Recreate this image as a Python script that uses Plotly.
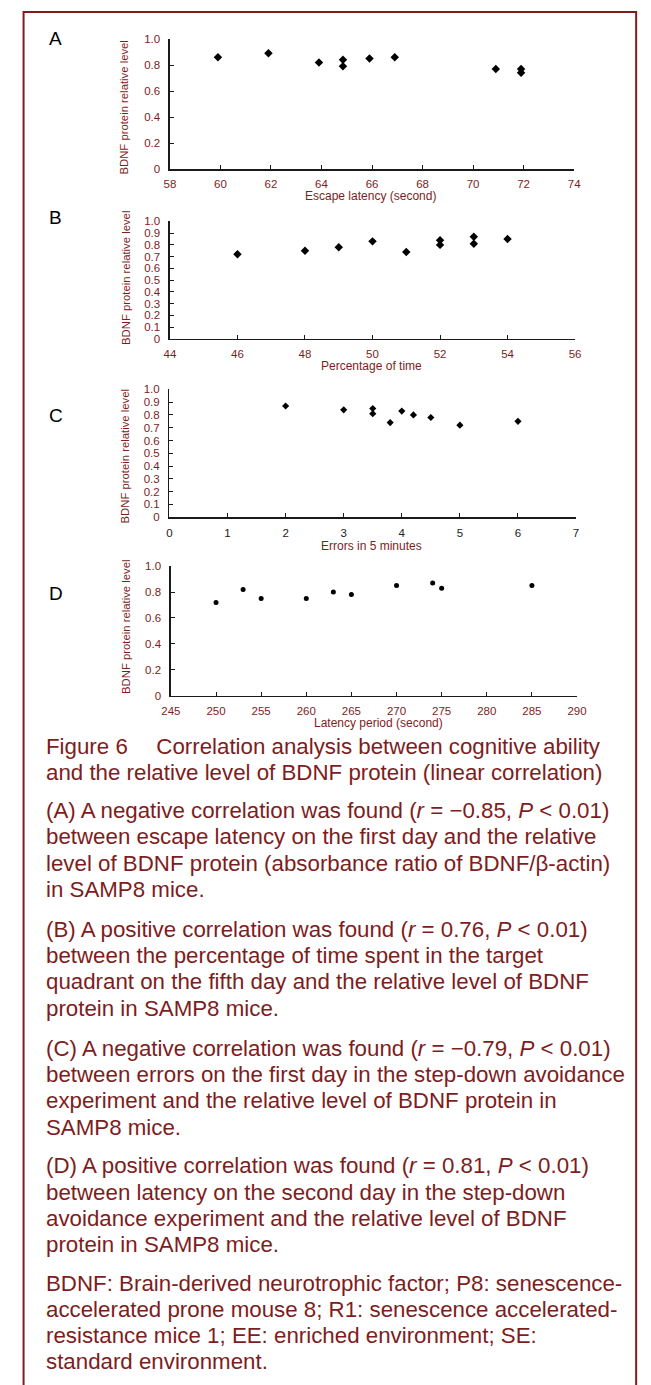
import plotly.graph_objects as go

# ---------------- data ----------------
a_x = [59.9, 61.9, 63.9, 64.85, 64.85, 65.9, 66.9, 70.9, 71.9, 71.9]
a_y = [0.86, 0.89, 0.82, 0.84, 0.79, 0.85, 0.86, 0.77, 0.77, 0.74]

b_x = [46, 48, 49, 50, 51, 52, 52, 53, 53, 54]
b_y = [0.72, 0.75, 0.78, 0.83, 0.74, 0.84, 0.80, 0.87, 0.81, 0.85]

c_x = [2, 3, 3.5, 3.5, 3.8, 4, 4.2, 4.5, 5, 6]
c_y = [0.87, 0.84, 0.85, 0.81, 0.74, 0.83, 0.80, 0.78, 0.72, 0.75]

d_x = [250, 253, 255, 260, 263, 265, 270, 274, 275, 285]
d_y = [0.72, 0.82, 0.75, 0.75, 0.80, 0.78, 0.85, 0.87, 0.83, 0.85]

a_xticks = [58, 60, 62, 64, 66, 68, 70, 72, 74]
b_xticks = [44, 46, 48, 50, 52, 54, 56]
c_xticks = [0, 1, 2, 3, 4, 5, 6, 7]
d_xticks = [245, 250, 255, 260, 265, 270, 275, 280, 285, 290]
y_ticks_02 = [0, 0.2, 0.4, 0.6, 0.8, 1.0]
y_ticks_01 = [0, 0.1, 0.2, 0.3, 0.4, 0.5, 0.6, 0.7, 0.8, 0.9, 1.0]

panel_letters = ["A", "B", "C", "D"]
x_titles = ["Escape latency (second)", "Percentage of time",
            "Errors in 5 minutes", "Latency period (second)"]
y_title = "BDNF protein relative level"

caption = [
    ["Figure 6\u2003 Correlation analysis between cognitive ability",
     "and the relative level of BDNF protein (linear correlation)"],
    ["(A) A negative correlation was found (<i>r</i> = \u22120.85, <i>P</i> &lt; 0.01)",
     "between escape latency on the first day and the relative",
     "level of BDNF protein (absorbance ratio of BDNF/\u03b2-actin)",
     "in SAMP8 mice."],
    ["(B) A positive correlation was found (<i>r</i> = 0.76, <i>P</i> &lt; 0.01)",
     "between the percentage of time spent in the target",
     "quadrant on the fifth day and the relative level of BDNF",
     "protein in SAMP8 mice."],
    ["(C) A negative correlation was found (<i>r</i> = \u22120.79, <i>P</i> &lt; 0.01)",
     "between errors on the first day in the step-down avoidance",
     "experiment and the relative level of BDNF protein in",
     "SAMP8 mice."],
    ["(D) A positive correlation was found (<i>r</i> = 0.81, <i>P</i> &lt; 0.01)",
     "between latency on the second day in the step-down",
     "avoidance experiment and the relative level of BDNF",
     "protein in SAMP8 mice."],
    ["BDNF: Brain-derived neurotrophic factor; P8: senescence-",
     "accelerated prone mouse 8; R1: senescence accelerated-",
     "resistance mice 1; EE: enriched environment; SE:",
     "standard environment."],
]

# ---------------- layout helpers ----------------
W, H = 651, 1385
RED = "#7d1d1d"
FONT = "Liberation Sans, Arial, sans-serif"


def fx(px):
    return px / W


def fy(py):
    return 1 - py / H


# panel geometry in pixels: (x_left, x_right, y_top, y_bottom)
panels = [
    (165, 582, 33.3, 164.5),
    (165, 583, 217.3, 335.7),
    (164.5, 584, 386.7, 515.7),
    (166, 585, 565, 695.7),
]
xranges = [[58, 74], [44, 56], [0, 7], [245, 290]]
xticks = [a_xticks, b_xticks, c_xticks, d_xticks]
yticks = [y_ticks_02, y_ticks_01, y_ticks_01, y_ticks_02]
series = [(a_x, a_y), (b_x, b_y), (c_x, c_y), (d_x, d_y)]
markers = [dict(symbol="diamond", size=6.5), dict(symbol="diamond", size=6.5),
           dict(symbol="diamond", size=5.5), dict(symbol="circle", size=5)]
xtick_colors = [RED, RED, "#222222", RED]
letter_y = [33, 213, 413, 593]
xtitle_pos = [(372, 192), (373, 363), (372.5, 545), (380.5, 723)]
ytitle_pos = [(118, 102), (119, 274), (119, 454), (119, 626)]

fig = go.Figure()
layout = dict(
    width=W, height=H,
    margin=dict(l=0, r=0, t=0, b=0),
    paper_bgcolor="white", plot_bgcolor="white",
    showlegend=False,
    font=dict(family=FONT, color=RED),
)
annotations = []

for i in range(4):
    k = "" if i == 0 else str(i + 1)
    x0, x1, yt, yb = panels[i]
    sx, sy = series[i]
    fig.add_trace(go.Scatter(
        x=sx, y=sy, mode="markers",
        marker=dict(color="black", line=dict(width=0), **markers[i]),
        xaxis="x" + k, yaxis="y" + k, cliponaxis=False,
    ))
    ytv = yticks[i]
    ytt = ["0" if v == 0 else f"{v:.1f}" for v in ytv]
    layout["xaxis" + k] = dict(
        domain=[fx(x0), fx(x1)], anchor="y" + k, range=xranges[i],
        tickvals=xticks[i], ticktext=[str(v) for v in xticks[i]],
        showline=True, linecolor="#1a1a1a", linewidth=1.5,
        ticks="inside", ticklen=4, tickwidth=1, tickcolor="#1a1a1a",
        showgrid=False, zeroline=False, fixedrange=True,
        tickfont=dict(family=FONT, size=11.5, color=xtick_colors[i]),
        ticklabelstandoff=4,
    )
    layout["yaxis" + k] = dict(
        domain=[fy(yb), fy(yt)], anchor="x" + k, range=[0, 1.0],
        tickvals=ytv, ticktext=ytt,
        showline=True, linecolor="#1a1a1a", linewidth=1.5,
        ticks="inside", ticklen=4, tickwidth=1, tickcolor="#1a1a1a",
        showgrid=False, zeroline=False, fixedrange=True,
        tickfont=dict(family=FONT, size=11.5, color=RED),
        ticklabelstandoff=6,
    )
    annotations.append(dict(
        text=panel_letters[i], x=fx(47), y=fy(letter_y[i]),
        xref="paper", yref="paper", xanchor="center", yanchor="middle",
        showarrow=False, font=dict(family=FONT, size=19, color="black"),
    ))
    tx, ty = xtitle_pos[i]
    annotations.append(dict(
        text=x_titles[i], x=fx(tx), y=fy(ty),
        xref="paper", yref="paper", xanchor="center", yanchor="middle",
        showarrow=False, font=dict(family=FONT, size=12, color=RED),
    ))
    ux, uy = ytitle_pos[i]
    annotations.append(dict(
        text=y_title, x=fx(ux), y=fy(uy), textangle=-90,
        xref="paper", yref="paper", xanchor="center", yanchor="middle",
        showarrow=False, font=dict(family=FONT, size=11.3, color=RED),
    ))

# caption lines
para_start = [747, 811.7, 931.7, 1051.7, 1170, 1288.3]
line_step = 26.4
for p, lines in enumerate(caption):
    for j, line in enumerate(lines):
        annotations.append(dict(
            text=line, x=fx(35), y=fy(para_start[p] + j * line_step),
            xref="paper", yref="paper", xanchor="left", yanchor="middle",
            showarrow=False, font=dict(family=FONT, size=22.3, color=RED),
        ))

layout["annotations"] = annotations
layout["shapes"] = [dict(
    type="rect", xref="paper", yref="paper",
    x0=fx(14), x1=fx(646), y0=fy(1400), y1=fy(6),
    line=dict(color=RED, width=2), fillcolor="rgba(0,0,0,0)", layer="above",
)]
fig.update_layout(**layout)
fig.write_html(
    "out.html",
    config={"displayModeBar": False, "staticPlot": True},
    post_script="document.body.style.margin='0';document.body.style.padding='0';"
                "document.body.style.overflow='hidden';",
)
